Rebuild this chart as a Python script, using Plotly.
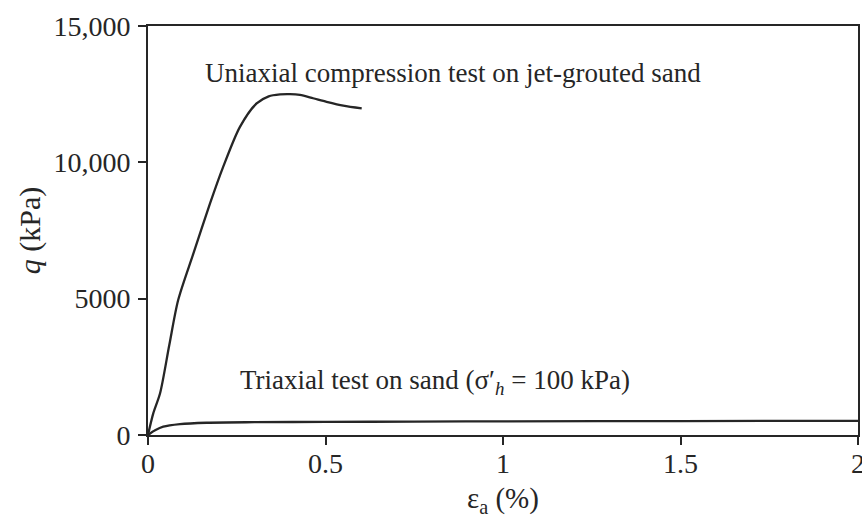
import plotly.graph_objects as go

# Uniaxial compression test on jet-grouted sand
uni_x = [0, 0.015, 0.034, 0.06, 0.085, 0.128, 0.175, 0.212, 0.259, 0.306, 0.34, 0.372, 0.40, 0.428, 0.465, 0.503, 0.55, 0.602]
uni_q = [0, 800, 1530, 3300, 4950, 6660, 8500, 9840, 11300, 12160, 12420, 12490, 12500, 12470, 12350, 12220, 12080, 11980]

# Triaxial test on sand
tri_x = [0, 0.02, 0.043, 0.09, 0.165, 0.3, 0.5, 0.75, 1.0, 1.5, 2.0]
tri_q = [0, 170, 305, 400, 450, 470, 480, 490, 500, 510, 520]

y_ticks = [0, 5000, 10000, 15000]
y_ticktext = ["0", "5000", "10,000", "15,000"]
x_ticks = [0, 0.5, 1, 1.5, 2]
x_ticktext = ["0", "0.5", "1", "1.5", "2"]

FONT = "Liberation Serif"
INK = "#262626"

fig = go.Figure()
fig.add_trace(go.Scatter(x=uni_x, y=uni_q, mode="lines",
                         line=dict(color=INK, width=2.3, shape="spline", smoothing=0.8),
                         showlegend=False, hoverinfo="skip"))
fig.add_trace(go.Scatter(x=tri_x, y=tri_q, mode="lines",
                         line=dict(color=INK, width=2.3, shape="spline", smoothing=0.8),
                         showlegend=False, hoverinfo="skip"))

fig.add_annotation(x=0.155, y=13275, xref="x", yref="y", xanchor="left", yanchor="middle",
                   text="Uniaxial compression test on jet-grouted sand", showarrow=False,
                   font=dict(family=FONT, size=27, color=INK))
fig.add_annotation(x=0.254, y=1945, xref="x", yref="y", xanchor="left", yanchor="middle",
                   text="Triaxial test on sand (σ′<sub><i>h</i></sub> = 100 kPa)", showarrow=False,
                   font=dict(family=FONT, size=27, color=INK))
# x-axis title
fig.add_annotation(x=0.5, y=-0.158, xref="paper", yref="paper", xanchor="center", yanchor="middle",
                   text="ε<sub>a</sub> (%)", showarrow=False,
                   font=dict(family=FONT, size=29, color=INK))

fig.update_layout(
    width=862, height=517,
    margin=dict(l=148, r=4, t=26, b=82),
    plot_bgcolor="white", paper_bgcolor="white",
    font=dict(family=FONT, size=28, color=INK),
    xaxis=dict(range=[0, 2], tickvals=x_ticks, ticktext=x_ticktext, ticklabeloverflow="allow",
               automargin=False, ticklabelstandoff=-6,
               showgrid=False, zeroline=False, showline=True, linecolor=INK, linewidth=2,
               mirror=True, ticks="outside", ticklen=8, tickwidth=2, tickcolor=INK),
    yaxis=dict(range=[0, 15000], tickvals=y_ticks, ticktext=y_ticktext, ticklabeloverflow="allow",
               automargin=False, ticklabelstandoff=2,
               showgrid=False, zeroline=False, showline=True, linecolor=INK, linewidth=2,
               mirror=True, ticks="outside", ticklen=8, tickwidth=2, tickcolor=INK,
               title=dict(text="<i>q</i> (kPa)", standoff=4, font=dict(size=30))),
)

fig.write_html("out.html")
